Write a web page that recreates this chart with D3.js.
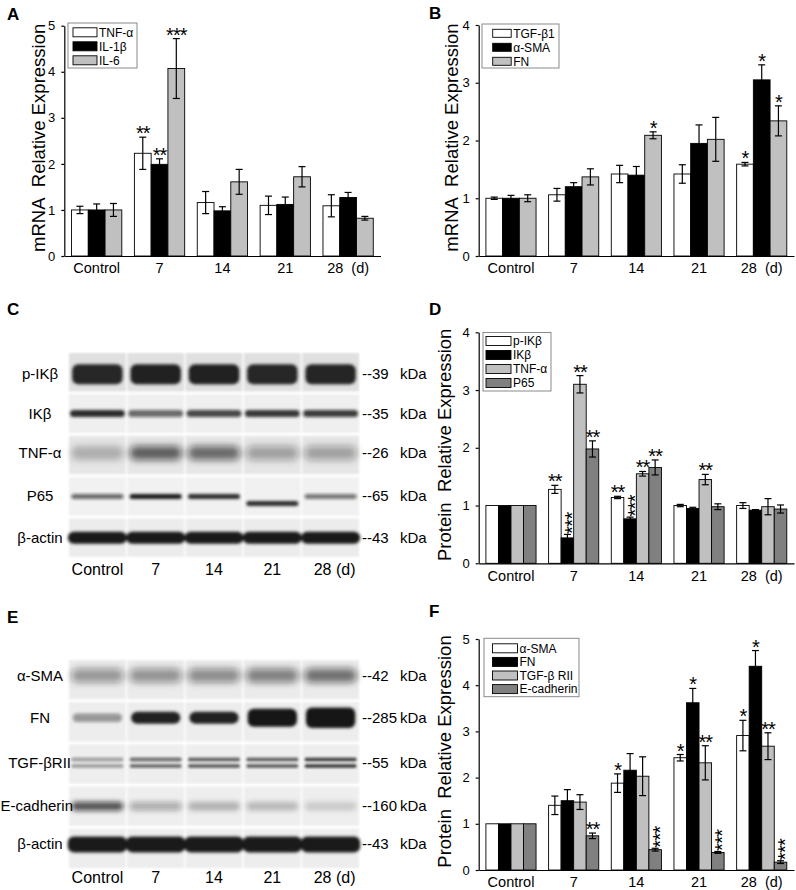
<!DOCTYPE html>
<html>
<head>
<meta charset="utf-8">
<script src="https://cdn.jsdelivr.net/npm/d3@7"></script>
<style>
  body { margin: 0; background: #fff; }
  svg { display: block; font-family: Arial, "Liberation Sans", sans-serif; }
</style>
</head>
<body>
<svg id="fig" width="796" height="890"></svg>
<script>
// ---- shared categories ----
const groupTicks = ["Control", "7", "14", "21", "28\u00a0\u00a0(d)"];
const laneTicks = ["Control", "7", "14", "21", "28 (d)"];

// ---- panel A: mRNA, inflammatory ----
const seriesA = ["TNF-α", "IL-1β", "IL-6"];
const valuesA = [[1.0, 2.23, 1.16, 1.1, 1.09], [1.0, 1.99, 0.98, 1.12, 1.27], [1.0, 4.07, 1.61, 1.72, 0.82]];
const errorsA = [[0.08, 0.35, 0.24, 0.2, 0.24], [0.13, 0.12, 0.09, 0.16, 0.11], [0.14, 0.65, 0.27, 0.22, 0.04]];
const starsA = [["", "**", "", "", ""], ["", "**", "", "", ""], ["", "***", "", "", ""]];

// ---- panel B: mRNA, fibrosis ----
const seriesB = ["TGF-β1", "α-SMA", "FN"];
const valuesB = [[1.0, 1.06, 1.42, 1.42, 1.59], [1.0, 1.2, 1.4, 1.95, 3.05], [1.0, 1.37, 2.09, 2.02, 2.34]];
const errorsB = [[0.02, 0.11, 0.15, 0.16, 0.03], [0.05, 0.07, 0.15, 0.32, 0.26], [0.06, 0.14, 0.06, 0.38, 0.26]];
const starsB = [["", "", "", "", "*"], ["", "", "", "", "*"], ["", "", "*", "", "*"]];

// ---- panel D: protein, NF-kB pathway ----
const seriesD = ["p-IKβ", "IKβ", "TNF-α", "P65"];
const valuesD = [[1.0, 1.28, 1.14, 1.0, 1.0], [1.0, 0.44, 0.77, 0.95, 0.92], [1.0, 3.1, 1.55, 1.45, 0.98], [1.0, 1.98, 1.66, 0.98, 0.94]];
const errorsD = [[0, 0.07, 0.02, 0.02, 0.05], [0, 0.06, 0.03, 0.02, 0.01], [0, 0.15, 0.04, 0.09, 0.14], [0, 0.14, 0.13, 0.05, 0.07]];
const starsD = [["", "**", "**", "", ""], ["", "***", "***", "", ""], ["", "**", "**", "**", ""], ["", "**", "**", "", ""]];
const stackedD = [[1, 1], [1, 2]];

// ---- panel F: protein, EMT ----
const seriesF = ["α-SMA", "FN", "TGF-β RII", "E-cadherin"];
const valuesF = [[1.0, 1.4, 1.88, 2.43, 2.91], [1.0, 1.5, 2.16, 3.62, 4.41], [1.0, 1.47, 2.03, 2.32, 2.68], [1.0, 0.74, 0.44, 0.38, 0.17]];
const errorsF = [[0, 0.2, 0.2, 0.07, 0.33], [0, 0.24, 0.36, 0.31, 0.34], [0, 0.16, 0.42, 0.37, 0.29], [0, 0.06, 0.03, 0.02, 0.03]];
const starsF = [["", "", "*", "*", "*"], ["", "", "", "*", "*"], ["", "", "", "**", "**"], ["", "**", "***", "***", "***"]];
const stackedF = [[3, 2], [3, 3], [3, 4]];

// ---- blot C ----
const rowsC = ["p-IKβ", "IKβ", "TNF-α", "P65", "β-actin"];
const kdaC = ["39", "35", "26", "65", "43"];
const bandsC = [
  [0.92, 0.95, 0.95, 0.92, 0.93],
  [0.9, 0.6, 0.75, 0.85, 0.8],
  [0.25, 0.65, 0.6, 0.35, 0.35],
  [0.6, 0.98, 0.9, 0.9, 0.55],
  [0.98, 0.98, 0.98, 0.98, 0.98]
];

// ---- blot E ----
const rowsE = ["α-SMA", "FN", "TGF-βRII", "E-cadherin", "β-actin"];
const kdaE = ["42", "285", "55", "160", "43"];
const bandsE = [
  [0.4, 0.42, 0.45, 0.5, 0.58],
  [0.4, 0.95, 0.95, 1, 1],
  [0.35, 0.55, 0.6, 0.6, 0.72],
  [0.7, 0.3, 0.25, 0.22, 0.15],
  [0.98, 0.98, 0.98, 0.98, 0.98]
];

const colors3 = ["#ffffff", "#000000", "#c0c0c0"];
const colors4 = ["#ffffff", "#000000", "#c0c0c0", "#808080"];

const svg = d3.select("#fig");
const defs = svg.append("defs");
[["blur1", 1], ["blur1_5", 1.5], ["blur2_5", 2.5], ["blur3_5", 3.5]].forEach(([id, s]) => {
  defs.append("filter").attr("id", id)
    .attr("x", "-30%").attr("y", "-150%").attr("width", "160%").attr("height", "400%")
    .append("feGaussianBlur").attr("stdDeviation", s);
});

function drawBars(c) {
  const g = svg.append("g");

  const x = d3.scaleBand().domain(groupTicks).range([c.left, c.right])
    .paddingInner(0.2).paddingOuter(0.115);
  const xs = d3.scaleBand().domain(d3.range(c.series.length)).range([0, x.bandwidth()]);
  const y = d3.scaleLinear().domain([0, c.yMax]).range([c.bottom, c.top]);
  const stacked = new Set((c.stacked || []).map(d => d.join(",")));

  // bars, one group per series
  c.series.forEach((s, si) => {
    const bx = gi => x(groupTicks[gi]) + xs(si);
    const sg = g.append("g");
    sg.selectAll("rect").data(c.values[si]).join("rect")
      .attr("x", (d, gi) => bx(gi))
      .attr("y", d => y(d))
      .attr("width", xs.bandwidth())
      .attr("height", d => c.bottom - y(d))
      .attr("fill", c.colors[si])
      .attr("stroke", "#000")
      .attr("stroke-width", 0.9);

    // error bars
    c.values[si].forEach((v, gi) => {
      const e = c.errors[si][gi];
      if (!e) return;
      const cx = bx(gi) + xs.bandwidth() / 2;
      sg.append("line").attr("x1", cx).attr("x2", cx).attr("y1", y(v + e)).attr("y2", y(v - e))
        .attr("stroke", "#000").attr("stroke-width", 1.2);
      [v + e, v - e].forEach(t => {
        sg.append("line").attr("x1", cx - 3.5).attr("x2", cx + 3.5).attr("y1", y(t)).attr("y2", y(t))
          .attr("stroke", "#000").attr("stroke-width", 1.2);
      });
    });

    // significance stars
    c.stars[si].forEach((st, gi) => {
      if (!st) return;
      const cx = bx(gi) + xs.bandwidth() / 2;
      const top = y(c.values[si][gi] + c.errors[si][gi]);
      if (stacked.has(si + "," + gi)) {
        // stars stacked upward in one text element
        sg.append("text")
          .attr("transform", `translate(${cx},${top - 0.5}) rotate(-90)`)
          .attr("x", 0).attr("y", 11.5)
          .attr("font-size", 20).attr("letter-spacing", -0.6).text(st);
      } else {
        sg.append("text").attr("x", cx).attr("y", top + 3)
          .attr("text-anchor", "middle").attr("font-size", 20).attr("letter-spacing", -1).text(st);
      }
    });
  });

  // axes
  const yAxis = g.append("g").attr("transform", `translate(${c.left},0)`)
    .call(d3.axisLeft(y).ticks(c.yMax).tickFormat(d3.format("d")).tickSize(3).tickSizeOuter(0).tickPadding(6));
  const xAxis = g.append("g").attr("transform", `translate(0,${c.bottom})`)
    .call(d3.axisBottom(x).tickSize(0).tickPadding(7));
  yAxis.attr("font-family", null).attr("font-size", 13);
  xAxis.attr("font-family", null).attr("font-size", 14.5);
  [yAxis, xAxis].forEach(a => {
    a.selectAll("path, line").attr("stroke", "#000").attr("stroke-width", 1.2);
    a.selectAll("text").attr("fill", "#000");
  });

  // y label
  g.append("text")
    .attr("transform", `translate(${c.labelX},${(c.top + c.bottom) / 2 - 3}) rotate(-90)`)
    .attr("text-anchor", "middle").attr("font-size", 18.5).text(c.yLabel);

  // legend
  const L = c.legend;
  const lg = g.append("g").attr("transform", `translate(${L.x},${L.y})`);
  lg.append("rect").attr("width", L.w).attr("height", L.h).attr("fill", "#fff").attr("stroke", "#8a8a8a");
  const items = lg.selectAll("g.item").data(c.series).join("g").attr("class", "item")
    .attr("transform", (d, i) => `translate(0,${L.first + i * L.step})`);
  items.append("rect").attr("x", L.sx).attr("y", -L.sh / 2).attr("width", L.sw).attr("height", L.sh)
    .attr("fill", (d, i) => c.colors[i]).attr("stroke", "#000").attr("stroke-width", 0.9);
  items.append("text").attr("x", L.sx + L.sw + 2).attr("dy", "0.36em").attr("font-size", 12).text(d => d);

  // panel letter
  g.append("text").attr("x", c.letterX).attr("y", c.letterY)
    .attr("font-size", 17).attr("font-weight", "bold").text(c.letter);
}

function drawBlot(b) {
  const g = svg.append("g");
  const lane = d3.scaleBand().domain(laneTicks).range([b.x0, b.x1]).paddingInner(0.06);
  const row = d3.scaleBand().domain(b.rows).range([b.y0, b.y1]).paddingInner(0.07);

  b.rows.forEach((r, ri) => {
    const st = b.style[ri];
    const cy = row(r) + row.bandwidth() / 2 + (st.dy || 0);

    // membrane strip background
    g.append("g").attr("filter", "url(#blur1)").selectAll("rect").data(laneTicks).join("rect")
      .attr("x", l => lane(l) - 1).attr("y", row(r))
      .attr("width", lane.bandwidth() + 2).attr("height", row.bandwidth())
      .attr("fill", st.bg);

    // bands
    const offsets = st.double ? [-3.5, 3] : [0];
    offsets.forEach(off => {
      g.append("g").attr("filter", `url(#${st.blur})`).selectAll("rect").data(b.bands[ri]).join("rect")
        .each(function (d, li) {
          const hs = st.hScale ? st.hScale[li] : 1;
          const h = st.h * hs;
          const w = lane.bandwidth() * st.w;
          const sh = st.shift ? st.shift[li] : 0;
          d3.select(this)
            .attr("x", lane(laneTicks[li]) + (lane.bandwidth() - w) / 2)
            .attr("width", w)
            .attr("y", cy + off + sh - h / 2)
            .attr("height", h)
            .attr("rx", Math.min(h / 2, 6));
        })
        .attr("fill", "#141414")
        .attr("fill-opacity", d => d);
    });

    // row label, centred in the left margin unless it would run into the blot
    const lab = g.append("text").attr("x", 40).attr("y", cy + 5)
      .attr("text-anchor", "middle").attr("font-size", 15).text(r);
    const wl = lab.node().getComputedTextLength();
    if (40 + wl / 2 > b.x0 + 1) lab.attr("x", Math.max(wl / 2 + 0.5, b.x0 + 1 - wl / 2));

    // molecular weight
    g.append("text").attr("x", 362).attr("y", cy + 5).attr("font-size", 15).text("--" + b.kda[ri]);
    g.append("text").attr("x", 400).attr("y", cy + 5).attr("font-size", 15).text("kDa");
  });

  // lane labels
  g.selectAll("text.lane").data(laneTicks).join("text").attr("class", "lane")
    .attr("x", l => lane(l) + lane.bandwidth() / 2 + (l === "28 (d)" ? 4 : 0))
    .attr("y", b.labelY).attr("text-anchor", "middle").attr("font-size", 16).text(l => l);

  g.append("text").attr("x", b.letterX).attr("y", b.letterY)
    .attr("font-size", 17).attr("font-weight", "bold").text(b.letter);
}

drawBars({
  letter: "A", letterX: 7, letterY: 19.5,
  series: seriesA, values: valuesA, errors: errorsA, stars: starsA, colors: colors3,
  left: 64.3, right: 380.5, top: 25.7, bottom: 256, yMax: 5,
  yLabel: "mRNA\u00a0 Relative Expression", labelX: 45,
  legend: { x: 68, y: 23, w: 69, h: 45, first: 9.3, step: 14, sx: 5, sw: 24, sh: 9 }
});

drawBars({
  letter: "B", letterX: 429, letterY: 18.5,
  series: seriesB, values: valuesB, errors: errorsB, stars: starsB, colors: colors3,
  left: 478.7, right: 794, top: 25, bottom: 256, yMax: 4,
  yLabel: "mRNA\u00a0 Relative Expression", labelX: 458,
  legend: { x: 482, y: 24, w: 77, h: 44, first: 9.3, step: 14, sx: 10.7, sw: 18.5, sh: 8 }
});

drawBars({
  letter: "D", letterX: 429, letterY: 314.5,
  series: seriesD, values: valuesD, errors: errorsD, stars: starsD, stacked: stackedD, colors: colors4,
  left: 478.7, right: 794, top: 332.3, bottom: 563.3, yMax: 4,
  yLabel: "Protein\u00a0 Relative Expression", labelX: 451,
  legend: { x: 483, y: 332.5, w: 68, h: 58.5, first: 8.5, step: 14, sx: 3, sw: 25, sh: 9 }
});

drawBars({
  letter: "F", letterX: 429, letterY: 616.5,
  series: seriesF, values: valuesF, errors: errorsF, stars: starsF, stacked: stackedF, colors: colors4,
  left: 478.7, right: 794, top: 639, bottom: 870, yMax: 5,
  yLabel: "Protein\u00a0 Relative Expression", labelX: 451,
  legend: { x: 484, y: 638.3, w: 95, h: 58.4, first: 10, step: 13.6, sx: 8.5, sw: 25, sh: 9 }
});

drawBlot({
  letter: "C", letterX: 7, letterY: 314.5,
  rows: rowsC, kda: kdaC, bands: bandsC,
  x0: 70, x1: 358, y0: 353, y1: 557, labelY: 575,
  style: [
    { h: 20, w: 0.92, blur: "blur1_5", bg: "#e0e0e0", dy: 2 },
    { h: 7, w: 1.0, blur: "blur1_5", bg: "#efefef" },
    { h: 14, w: 0.95, blur: "blur3_5", bg: "#e6e6e6", dy: -2 },
    { h: 5, w: 0.95, blur: "blur1_5", bg: "#f1f1f1", shift: [0, 0, 0, 7, 0] },
    { h: 12, w: 1.08, blur: "blur1_5", bg: "#ececec" }
  ]
});

drawBlot({
  letter: "E", letterX: 7, letterY: 622.5,
  rows: rowsE, kda: kdaE, bands: bandsE,
  x0: 70, x1: 358, y0: 660, y1: 868, labelY: 883,
  style: [
    { h: 14, w: 0.95, blur: "blur3_5", bg: "#ebebeb", dy: -4 },
    { h: 12, w: 0.9, blur: "blur1_5", bg: "#ededed", dy: -4, hScale: [0.7, 1, 1, 1.5, 1.7] },
    { h: 4, w: 0.95, blur: "blur1", bg: "#eeeeee", dy: -1, double: true },
    { h: 9, w: 0.95, blur: "blur2_5", bg: "#eeeeee" },
    { h: 16, w: 1.08, blur: "blur1_5", bg: "#ededed", dy: -4 }
  ]
});
</script>
</body>
</html>
